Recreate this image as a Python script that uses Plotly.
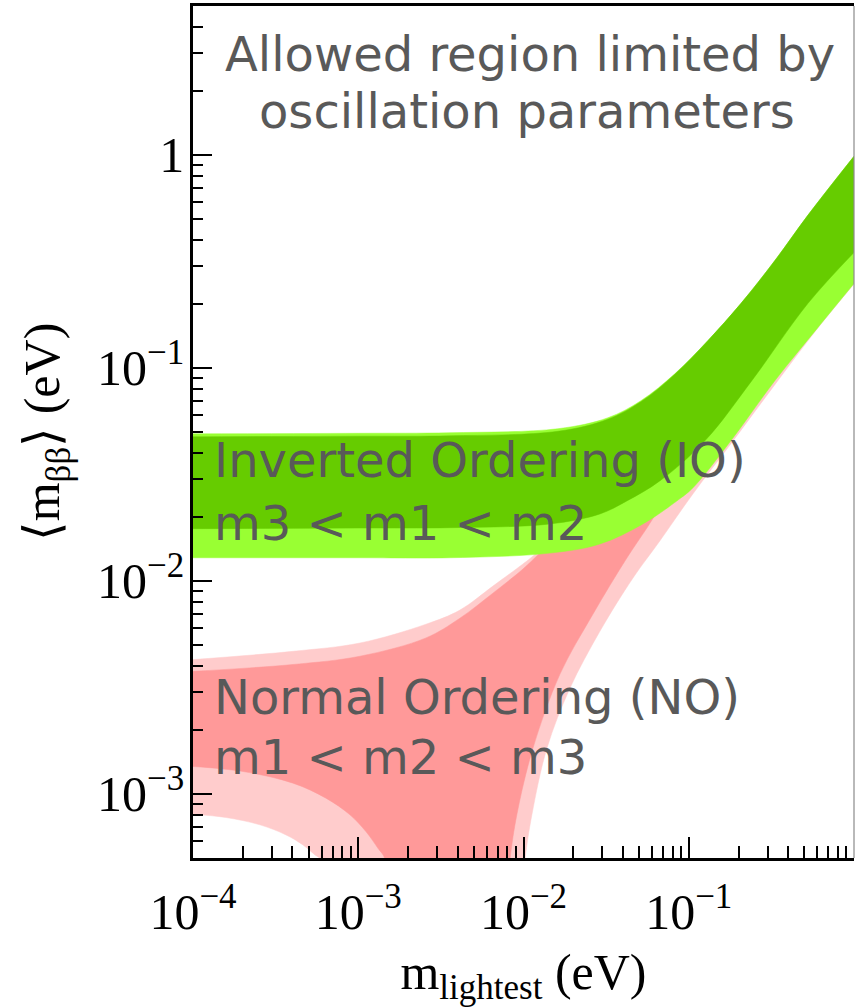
import plotly.graph_objects as go

# ---- Normal ordering (NO) band, 3-sigma (light) and best-fit range (dark) ----
no_light_upper_x = [1e-4, 4.03e-4, 1.024e-3, 2.57e-3, 4.12e-3, 6.53e-3, 9.92e-3, 1.109e-2,
                    1.66e-2, 2.9e-2, 5.81e-2, 0.1167, 0.2342, 0.47, 1.0]
no_light_upper_y = [4.27e-3, 4.67e-3, 5.11e-3, 6.26e-3, 7.29e-3, 9.45e-3, 1.2e-2, 1.284e-2,
                    1.715e-2, 3.012e-2, 6.29e-2, 0.1129, 0.2116, 0.4296, 0.92]
no_light_lower_left_x = [1e-4, 1.583e-4, 2.543e-4, 3.652e-4, 4.627e-4, 5.47e-4, 5.865e-4, 6.6e-4]
no_light_lower_left_y = [8.025e-4, 7.745e-4, 7.154e-4, 6.42e-4, 5.76e-4, 5.17e-4, 4.95e-4, 2e-4]
no_light_lower_right_x = [9.0e-3, 1.02e-2, 1.125e-2, 1.385e-2, 1.909e-2, 2.9e-2, 4.59e-2,
                          6.68e-2, 0.1059, 0.1798, 0.346, 0.604, 1.0]
no_light_lower_right_y = [2e-4, 4.91e-4, 8.0e-4, 1.635e-3, 3.13e-3, 5.8e-3, 1.03e-2,
                          1.539e-2, 2.56e-2, 4.4e-2, 8.71e-2, 0.1537, 0.2475]

no_dark_upper_x = [1e-4, 4.03e-4, 1.024e-3, 2.57e-3, 4.12e-3, 6.53e-3, 9.92e-3, 1.257e-2,
                   1.66e-2, 2.9e-2, 5.81e-2, 0.1167, 0.2342, 0.47, 1.0]
no_dark_upper_y = [3.76e-3, 4.05e-3, 4.43e-3, 5.4e-3, 6.68e-3, 8.76e-3, 1.136e-2, 1.351e-2,
                   1.624e-2, 2.853e-2, 5.96e-2, 0.1081, 0.2026, 0.4098, 0.884]
no_dark_lower_left_x = [1e-4, 2.01e-4, 4.03e-4, 6.38e-4, 8.91e-4, 1.113e-3, 1.316e-3, 1.45e-3, 1.6e-3]
no_dark_lower_left_y = [1.345e-3, 1.274e-3, 1.123e-3, 9.545e-4, 7.97e-4, 6.65e-4, 5.554e-4, 4.95e-4, 2e-4]
no_dark_lower_right_x = [7.4e-3, 8.28e-3, 9.12e-3, 1.14e-2, 1.66e-2, 2.63e-2, 4.22e-2, 5.58e-2,
                         6.68e-2, 9.2e-2, 0.1252, 0.2408, 0.5254, 1.0]
no_dark_lower_right_y = [2e-4, 4.91e-4, 8.0e-4, 1.635e-3, 3.64e-3, 6.97e-3, 1.28e-2, 1.771e-2,
                         2.2e-2, 3.146e-2, 4.45e-2, 8.52e-2, 0.19, 0.3264]

# ---- Inverted ordering (IO) band ----
io_light_upper_x = [1e-4, 1e-3, 3.59e-3, 1.614e-2, 3.24e-2, 5.13e-2, 8.24e-2, 0.1305, 0.2066, 0.332, 0.5254, 1.0]
io_light_upper_y = [0.049, 0.0493, 0.0496, 0.0518, 0.0583, 0.0701, 0.0939, 0.1342, 0.2004, 0.319, 0.52, 0.985]
io_light_lower_x = [1e-4, 1e-3, 3.59e-3, 1.445e-2, 2.9e-2, 5.28e-2, 8.47e-2, 0.1059, 0.1798, 0.332, 0.604, 1.0]
io_light_lower_y = [0.01284, 0.01284, 0.01284, 0.0135, 0.0149, 0.0185, 0.02373, 0.02733, 0.04546, 0.0871, 0.1545, 0.2489]

io_dark_upper_x = [1e-4, 1e-3, 3.59e-3, 1.614e-2, 3.24e-2, 5.13e-2, 8.24e-2, 0.1305, 0.2066, 0.332, 0.5254, 1.0]
io_dark_upper_y = [0.04747, 0.0478, 0.04799, 0.05038, 0.05737, 0.06934, 0.0934, 0.1342, 0.2004, 0.319, 0.52, 0.985]
io_dark_lower_x = [1e-4, 1e-3, 3.59e-3, 1.445e-2, 2.9e-2, 4.22e-2, 6.68e-2, 0.1252, 0.2408, 0.5254, 1.0]
io_dark_lower_y = [0.01758, 0.0177, 0.01777, 0.0185, 0.02062, 0.02373, 0.02947, 0.04546, 0.0871, 0.2004, 0.3482]

# ---- axis ticks ----
x_tick_vals = [1e-4, 1e-3, 1e-2, 1e-1]
x_tick_text = ["10<sup>−4</sup>", "10<sup>−3</sup>", "10<sup>−2</sup>", "10<sup>−1</sup>"]
y_tick_vals = [1e-3, 1e-2, 1e-1, 1]
y_tick_text = ["10<sup>−3</sup>", "10<sup>−2</sup>", "10<sup>−1</sup>", "1"]

x_minor = [d * k for d in [1e-4, 1e-3, 1e-2, 1e-1] for k in range(2, 10)]
y_minor = [d * k for d in [1e-4, 1e-3, 1e-2, 1e-1, 1] for k in range(2, 10)]

C_NO_LIGHT = "#ffcccc"
C_NO_DARK = "#ff9999"
C_IO_LIGHT = "#99ff33"
C_IO_DARK = "#66cc00"

fig = go.Figure()


def band(lower_x, lower_y, upper_x, upper_y, color):
    """Fill the region between a lower and an upper boundary curve."""
    common = dict(mode="lines", line=dict(width=0.5, color=color, shape="spline", smoothing=1.0),
                  hoverinfo="skip", showlegend=False)
    fig.add_trace(go.Scatter(x=lower_x, y=lower_y, **common))
    fig.add_trace(go.Scatter(x=upper_x, y=upper_y, fill="tonexty", fillcolor=color, **common))


band(no_light_lower_left_x + no_light_lower_right_x, no_light_lower_left_y + no_light_lower_right_y,
     no_light_upper_x, no_light_upper_y, C_NO_LIGHT)
band(no_dark_lower_left_x + no_dark_lower_right_x, no_dark_lower_left_y + no_dark_lower_right_y,
     no_dark_upper_x, no_dark_upper_y, C_NO_DARK)
band(io_light_lower_x, io_light_lower_y, io_light_upper_x, io_light_upper_y, C_IO_LIGHT)
band(io_dark_lower_x, io_dark_lower_y, io_dark_upper_x, io_dark_upper_y, C_IO_DARK)

TICK_FONT = dict(family="Liberation Serif", size=50, color="black")
TEXT_FONT = dict(family="DejaVu Sans", size=48, color="#595959")

fig.update_xaxes(
    type="log", range=[-4, 0],
    tickmode="array", tickvals=x_tick_vals, ticktext=x_tick_text,
    ticks="inside", ticklen=21, tickwidth=1.5, tickcolor="black",
    minor=dict(tickmode="array", tickvals=x_minor, ticks="inside", ticklen=12,
               tickwidth=1.5, tickcolor="black", showgrid=False),
    showline=True, linewidth=2.5, linecolor="black", mirror=True,
    showgrid=False, zeroline=False,
    tickfont=TICK_FONT, ticklabelstandoff=8,
    title=dict(text="m<sub>lightest</sub> (eV)", font=TICK_FONT, standoff=22),
)
fig.update_yaxes(
    type="log", range=[-3.30103, 0.69897],
    tickmode="array", tickvals=y_tick_vals, ticktext=y_tick_text,
    ticks="inside", ticklen=19, tickwidth=1.5, tickcolor="black",
    minor=dict(tickmode="array", tickvals=y_minor, ticks="inside", ticklen=10,
               tickwidth=1.5, tickcolor="black", showgrid=False),
    showline=True, linewidth=2.5, linecolor="black",
    showgrid=False, zeroline=False,
    tickfont=TICK_FONT, ticklabelstandoff=-4,
    title=dict(text="⟨m<sub>ββ</sub>⟩ (eV)", font=TICK_FONT, standoff=22),
)

# right-hand frame edge
fig.add_shape(type="line", xref="paper", yref="paper", x0=1, x1=1, y0=0, y1=1,
              line=dict(color="#8a8a8a", width=1.2))

labels = [
    ("Allowed region limited by", 0.5098, 0.9437, "center"),
    ("oscillation parameters", 0.5050, 0.8768, "center"),
    ("Inverted Ordering (IO)", 0.0287, 0.4671, "left"),
    ("m3 < m1 < m2", 0.0287, 0.3932, "left"),
    ("Normal Ordering (NO)", 0.0287, 0.1884, "left"),
    ("m1 < m2 < m3", 0.0287, 0.1185, "left"),
]
for text, x, y, anchor in labels:
    fig.add_annotation(text=text, x=x, y=y, xref="paper", yref="paper",
                       xanchor=anchor, yanchor="middle", showarrow=False, font=TEXT_FONT)

fig.update_layout(
    width=858, height=1007,
    margin=dict(l=193, r=4, t=6, b=149),
    paper_bgcolor="white", plot_bgcolor="white",
)

fig.write_html("out.html")
